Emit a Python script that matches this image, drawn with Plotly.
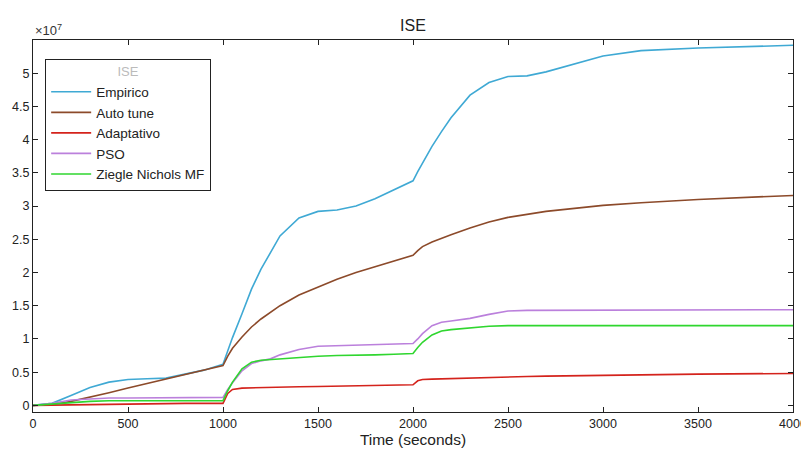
import plotly.graph_objects as go

# Time (seconds)
time_s = [0, 100, 200, 300, 400, 500, 600, 700, 800, 900,
          1000, 1025, 1050, 1100, 1150, 1200, 1250, 1300, 1400, 1500,
          1600, 1700, 1800, 1900, 2000, 2025, 2050, 2100, 2150, 2200,
          2300, 2400, 2500, 2600, 2700, 2800, 2900, 3000, 3200, 3500,
          4000]

# ISE values, in units of 1e7
empirico = [0, 0.03, 0.15, 0.27, 0.35, 0.39, 0.40, 0.41, 0.47, 0.53,
            0.62, 0.82, 1.02, 1.38, 1.75, 2.05, 2.30, 2.55, 2.82, 2.92,
            2.94, 3.00, 3.11, 3.25, 3.38, 3.52, 3.65, 3.90, 4.12, 4.33,
            4.67, 4.86, 4.95, 4.96, 5.02, 5.10, 5.18, 5.26, 5.34, 5.38,
            5.42]
auto_tune = [0, 0.01, 0.06, 0.12, 0.19, 0.26, 0.33, 0.40, 0.47, 0.53,
             0.60, 0.74, 0.86, 1.03, 1.18, 1.30, 1.40, 1.50, 1.66, 1.78,
             1.90, 2.00, 2.09, 2.18, 2.26, 2.33, 2.39, 2.46, 2.52, 2.57,
             2.67, 2.76, 2.83, 2.88, 2.92, 2.95, 2.98, 3.01, 3.05, 3.10,
             3.16]
adaptativo = [0, 0.005, 0.01, 0.015, 0.02, 0.02, 0.025, 0.025, 0.03, 0.03,
              0.03, 0.18, 0.24, 0.26, 0.265, 0.27, 0.27, 0.275, 0.28, 0.285,
              0.29, 0.295, 0.30, 0.305, 0.31, 0.37, 0.39, 0.395, 0.40, 0.405,
              0.41, 0.42, 0.43, 0.435, 0.44, 0.445, 0.45, 0.455, 0.46, 0.47,
              0.48]
pso = [0, 0.03, 0.08, 0.10, 0.11, 0.11, 0.11, 0.11, 0.12, 0.12,
       0.12, 0.24, 0.34, 0.52, 0.63, 0.67, 0.70, 0.76, 0.84, 0.89,
       0.90, 0.91, 0.92, 0.92, 0.93, 1.00, 1.08, 1.20, 1.25, 1.27,
       1.31, 1.37, 1.42, 1.43, 1.43, 1.43, 1.44, 1.44, 1.44, 1.44,
       1.44]
ziegler = [0, 0.02, 0.05, 0.06, 0.07, 0.07, 0.07, 0.07, 0.07, 0.07,
           0.07, 0.22, 0.35, 0.55, 0.65, 0.68, 0.69, 0.70, 0.73, 0.74,
           0.75, 0.75, 0.76, 0.77, 0.78, 0.87, 0.95, 1.06, 1.12, 1.14,
           1.17, 1.19, 1.20, 1.20, 1.20, 1.20, 1.20, 1.20, 1.20, 1.20,
           1.20]

series_names = ["Empirico", "Auto tune", "Adaptativo", "PSO", "Ziegle Nichols MF"]
series_values = [empirico, auto_tune, adaptativo, pso, ziegler]
series_colors = ["#3fa9d4", "#8c4a2a", "#d4231c", "#bb80dc", "#2fd62f"]

y_ticks = [0, 0.5, 1, 1.5, 2, 2.5, 3, 3.5, 4, 4.5, 5]
y_tick_labels = ["0", "0.5", "1", "1.5", "2", "2.5", "3", "3.5", "4", "4.5", "5"]
x_ticks = [0, 500, 1000, 1500, 2000, 2500, 3000, 3500, 4000]

fig = go.Figure()
for name, vals, col in zip(series_names, series_values, series_colors):
    fig.add_trace(go.Scatter(x=time_s, y=vals, mode="lines", name=name,
                             line=dict(color=col, width=1.6)))

font_family = "Liberation Sans, Arial, sans-serif"
axis_common = dict(showline=True, linecolor="#222", linewidth=1, mirror="ticks",
                   ticks="inside", ticklen=5, tickcolor="#222", showgrid=False,
                   zeroline=False, automargin=False,
                   tickfont=dict(size=12.5, color="#222", family=font_family))

# page body adds an 8px offset, so the figure is sized to fit inside the window
W, H = 801, 444
fig.update_layout(
    width=W, height=H,
    margin=dict(l=25, r=16, t=32, b=40),
    paper_bgcolor="white", plot_bgcolor="white",
    title=dict(text="ISE", x=(413 - 8) / W, xanchor="center", y=1 - 17 / H,
               yanchor="middle", font=dict(size=16, color="#222", family=font_family)),
    xaxis=dict(range=[0, 4000], tickvals=x_ticks,
               title=dict(text="Time (seconds)", standoff=3,
                          font=dict(size=15.5, color="#222", family=font_family)),
               **axis_common),
    yaxis=dict(range=[-0.1, 5.5], tickvals=y_ticks, ticktext=y_tick_labels, **axis_common),
    legend=dict(x=0.016, y=0.95, xanchor="left", yanchor="top",
                bgcolor="white", bordercolor="#222", borderwidth=1,
                font=dict(size=13.5, color="#222", family=font_family),
                title=dict(text="ISE", side="top center",
                           font=dict(size=13, color="#bbb", family=font_family)),
                tracegroupgap=0, itemwidth=40),
    showlegend=True,
)

fig.add_annotation(xref="paper", yref="paper", x=0.0, y=(412 - 30) / 372,
                   text="×10<sup>7</sup>", showarrow=False, xanchor="left",
                   yanchor="middle", font=dict(size=13, color="#333", family=font_family))

fig.write_html("out.html")
